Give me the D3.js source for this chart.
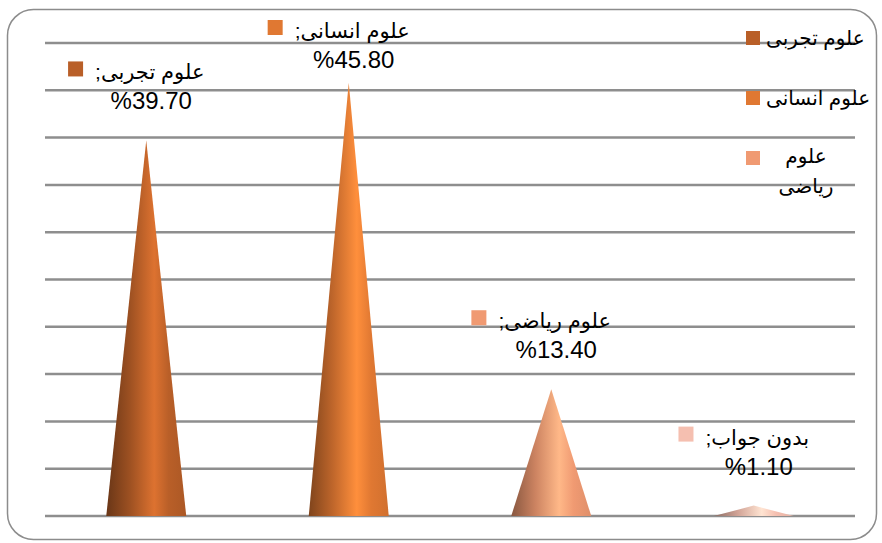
<!DOCTYPE html>
<html>
<head>
<meta charset="utf-8">
<script src="https://cdn.jsdelivr.net/npm/d3@7"></script>
<style>
  html, body { margin: 0; padding: 0; background: #fff; }
  svg { display: block; }
  text { font-family: "Liberation Sans", Arial, "DejaVu Sans", sans-serif; fill: #000; }
</style>
</head>
<body>
<script>
// ---- data ----
const categories = ["علوم تجربی", "علوم انسانی", "علوم ریاضی", "بدون جواب"];
const values = [39.7, 45.8, 13.4, 1.1];
const colors = ["#b95f28", "#e07832", "#f09a72", "#f5bfb0"];
const legendLines = [["علوم تجربی"], ["علوم انسانی"], ["علوم", "ریاضی"]];
const yMax = 50;
const yTickStep = 5;

// ---- layout ----
const W = 882, H = 543;
const plot = { left: 45, right: 855, top: 43, bottom: 516 };

const svg = d3.select("body").append("svg").attr("width", W).attr("height", H);

// frame
svg.append("rect")
  .attr("x", 7.5).attr("y", 9.5).attr("width", 869).attr("height", 530)
  .attr("rx", 26).attr("ry", 26)
  .attr("fill", "#fff").attr("stroke", "#8c8c8c").attr("stroke-width", 1.5);

const x = d3.scaleBand().domain(categories).range([plot.left, plot.right]);
const y = d3.scaleLinear().domain([0, yMax]).range([plot.bottom, plot.top]);

// gridlines
const ticks = d3.range(0, yMax + 0.001, yTickStep);
svg.append("g").selectAll("line").data(ticks).join("line")
  .attr("x1", plot.left).attr("x2", plot.right)
  .attr("y1", d => y(d)).attr("y2", d => y(d))
  .attr("stroke", "#8e8e8e").attr("stroke-width", 2.5);

// gradients for cones
const defs = svg.append("defs");
categories.forEach((c, i) => {
  const base = d3.color(colors[i]);
  const g = defs.append("linearGradient").attr("id", "cone" + i)
    .attr("x1", "0").attr("x2", "1").attr("y1", "0").attr("y2", "0");
  const stops = [
    [0, base.darker(1.6)],
    [0.3, base.darker(0.45)],
    [0.6, base.brighter(0.5)],
    [0.78, base],
    [1, base.darker(0.2)]
  ];
  stops.forEach(([o, col]) => g.append("stop").attr("offset", o).attr("stop-color", col.formatHex()));
});

// cones
const coneW = x.bandwidth() * 0.395;
svg.append("g").selectAll("path").data(categories).join("path")
  .attr("d", (c, i) => {
    const cx = x(c) + x.bandwidth() / 2;
    return `M${cx - coneW / 2},${y(0)} L${cx},${y(values[i])} L${cx + coneW / 2},${y(0)} Z`;
  })
  .attr("fill", (c, i) => `url(#cone${i})`);

// data labels
const lbl = svg.append("g");
categories.forEach((c, i) => {
  const cx = x(c) + x.bandwidth() / 2;
  const base2 = Math.max(y(values[i]) - 31, 68);
  const base1 = base2 - 30;
  const g = lbl.append("g");
  const t = g.append("text")
    .attr("font-size", 21)
    .attr("y", base1)
    .text(c + ";\u200F");
  const tw = t.node().getComputedTextLength();
  const sq = 15, gap = 12;
  const total = sq + gap + tw;
  const left = cx - 10 - total / 2;
  g.append("rect").attr("x", left).attr("y", base1 - 18).attr("width", sq).attr("height", sq)
    .attr("fill", colors[i]);
  t.attr("x", left + sq + gap);
  g.append("text")
    .attr("font-size", 24)
    .attr("x", cx + 5).attr("y", base2)
    .attr("text-anchor", "middle")
    .text("%" + values[i].toFixed(2));
});

// legend
const leg = svg.append("g");
legendLines.forEach((lines, i) => {
  const cy = 38 + i * 60;
  leg.append("rect").attr("x", 746).attr("y", cy - 7).attr("width", 14).attr("height", 14)
    .attr("fill", colors[i]);
  if (lines.length === 1) {
    leg.append("text").attr("font-size", 20).attr("x", 766).attr("y", cy + 7).text(lines[0]);
  } else {
    lines.forEach((ln, j) => {
      leg.append("text").attr("font-size", 20).attr("text-anchor", "middle")
        .attr("x", 806).attr("y", cy + 5 + j * 30).text(ln);
    });
  }
});
</script>
</body>
</html>
